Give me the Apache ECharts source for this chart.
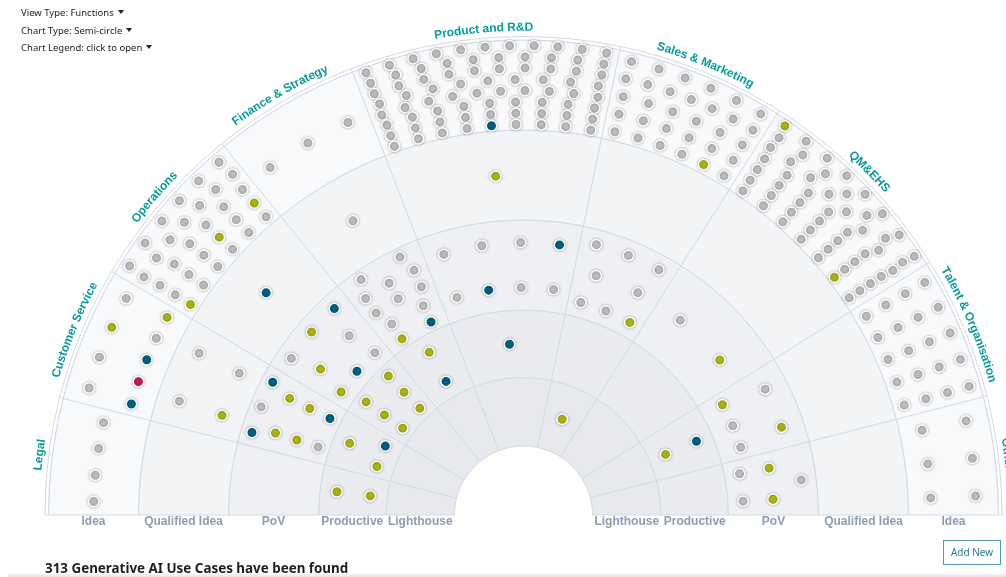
<!DOCTYPE html>
<html lang="en">
<head>
<meta charset="utf-8">
<title>Generative AI Use Cases</title>
<script src="https://cdn.jsdelivr.net/npm/echarts@6/dist/echarts.min.js"></script>
<style>
  html, body { margin: 0; padding: 0; background: #fff; }
  body { width: 1006px; height: 577px; position: relative; overflow: hidden; font-family: "Noto Sans", "Open Sans", sans-serif; }
  #chart { position: absolute; left: 0; top: 0; width: 1006px; height: 577px; }
  .menu { position: absolute; left: 21px; font-size: 9.5px; color: #222; line-height: 14px; white-space: nowrap; }
  .menu .caret { display: inline-block; margin-left: 4px; vertical-align: 2px; border-top: 4px solid #222; border-left: 3px solid transparent; border-right: 3px solid transparent; }
  .shade { position: absolute; left: 8px; right: 0; top: 574px; height: 3px; background: linear-gradient(#f4f4f4, #e4e4e4); }
  .found { position: absolute; left: 45px; top: 559px; font-size: 13.4px; line-height: 18px; font-weight: 700; color: #1e1e1e; white-space: nowrap; }
  .add-new { position: absolute; left: 943px; top: 540px; width: 56px; height: 23px; border: 1px solid #4f98a4; color: #2a7c8c; font-size: 10px; line-height: 23px; text-align: center; }
</style>
</head>
<body>
<div id="chart"></div>
<div class="menu" style="top:6px">View Type: Functions<span class="caret"></span></div>
<div class="menu" style="top:24px">Chart Type: Semi-circle<span class="caret"></span></div>
<div class="menu" style="top:41px">Chart Legend: click to open<span class="caret"></span></div>
<div class="shade"></div>
<div class="found">313 Generative AI Use Cases have been found</div>
<div class="add-new">Add New</div>
<script>
// stages from the centre outwards, with the radii of their ring edges
const stageNames = ["Lighthouse", "Productive", "PoV", "Qualified Idea", "Idea"];
const stageEdges = [69, 137.5, 205, 295, 385, 475];
const outerEdge = 478.5;

// functions, left to right, with the angles of their sector edges (0 = left, 180 = right)
const sectorNames = ["Legal", "Customer Service", "Operations", "Finance & Strategy",
  "Product and R&D", "Sales & Marketing", "QM&EHS", "Talent & Organisation", "Other"];
const sectorEdges = [0, 14.2, 30.6, 50.9, 68.9, 101.7, 122.3, 148.1, 165.6, 180];

// status of a use case: 0 grey, 1 green, 2 blue, 3 red
const statusNames = ["Open", "Active", "Running", "Flagged"];

// use cases per function: [radius, angle, status]
const legalCases = [
  [430, 1.8, 0], [430, 5.3, 0], [430, 8.9, 0], [430, 12.4, 0],
  [188, 7.1, 1], [154.4, 7.1, 1]
];
const customerCases = [
  [452.5, 16.3, 0], [452.5, 20.4, 0], [452.5, 24.5, 1], [452.5, 28.6, 0],
  [407.5, 15.8, 2], [407.5, 19.1, 3], [407.5, 22.4, 2], [407.5, 25.7, 0], [407.5, 29.0, 1],
  [362.5, 18.3, 0], [362.5, 26.5, 0], [317.5, 18.3, 1], [317.5, 26.5, 0],
  [283.8, 16.9, 2], [283.8, 22.4, 0], [283.8, 27.9, 2],
  [261.3, 18.3, 1], [261.3, 26.5, 1], [238.8, 18.3, 1], [238.8, 26.5, 1],
  [216.3, 18.3, 0], [216.3, 26.5, 2],
  [188, 22.4, 1], [154.4, 18.3, 1], [154.4, 26.5, 2]
];
const operationsCases = [
  [466, 32.3, 0], [466, 35.7, 0], [466, 39.1, 0], [466, 42.4, 0], [466, 45.8, 0], [466, 49.2, 0],
  [448, 32.1, 0], [448, 35.0, 0], [448, 37.9, 0], [448, 40.8, 0], [448, 43.7, 0], [448, 46.6, 0], [448, 49.5, 0],
  [430, 32.3, 0], [430, 35.7, 0], [430, 39.1, 0], [430, 42.4, 0], [430, 45.8, 0], [430, 49.2, 0],
  [412, 32.3, 0], [412, 35.7, 0], [412, 39.1, 0], [412, 42.4, 1], [412, 45.8, 0], [412, 49.2, 1],
  [394, 32.3, 1], [394, 35.7, 0], [394, 39.1, 0], [394, 42.4, 0], [394, 45.8, 0], [394, 49.2, 0],
  [340, 40.8, 2],
  [280, 34.0, 0], [280, 40.8, 1], [280, 47.5, 2], [250, 35.7, 1], [250, 45.8, 0],
  [220, 34.0, 1], [220, 40.8, 2], [220, 47.5, 0],
  [193.8, 35.7, 1], [193.8, 45.8, 1], [171.3, 35.7, 1], [171.3, 45.8, 1], [148.8, 35.7, 1], [148.8, 45.8, 1]
];
const financeCases = [
  [430, 53.9, 0], [430, 59.9, 0], [430, 65.9, 0],
  [340, 59.9, 0],
  [286, 55.4, 0], [286, 64.4, 0], [268, 53.9, 0], [268, 59.9, 0], [268, 65.9, 0],
  [250, 53.9, 0], [250, 59.9, 0], [250, 65.9, 0], [232, 55.4, 0], [232, 64.4, 0],
  [214, 55.4, 1], [214, 64.4, 2],
  [188, 59.9, 1], [154.4, 59.9, 2]
];
const productCases = [
  [469.4, 70.4, 0], [469.4, 73.4, 0], [469.4, 76.4, 0], [469.4, 79.3, 0], [469.4, 82.3, 0], [469.4, 85.3, 0],
  [469.4, 88.3, 0], [469.4, 91.3, 0], [469.4, 94.2, 0], [469.4, 97.2, 0], [469.4, 100.2, 0],
  [458.1, 70.5, 0], [458.1, 73.8, 0], [458.1, 77.1, 0], [458.1, 80.4, 0], [458.1, 83.7, 0],
  [458.1, 86.9, 0], [458.1, 90.2, 0], [458.1, 93.5, 0], [458.1, 96.8, 0], [458.1, 100.1, 0],
  [446.9, 70.5, 0], [446.9, 73.8, 0], [446.9, 77.1, 0], [446.9, 80.4, 0], [446.9, 83.7, 0],
  [446.9, 86.9, 0], [446.9, 90.2, 0], [446.9, 93.5, 0], [446.9, 96.8, 0], [446.9, 100.1, 0],
  [435.6, 70.7, 0], [435.6, 74.4, 0], [435.6, 78.0, 0], [435.6, 81.7, 0], [435.6, 85.3, 0],
  [435.6, 88.9, 0], [435.6, 92.6, 0], [435.6, 96.2, 0], [435.6, 99.9, 0],
  [424.4, 70.5, 0], [424.4, 73.8, 0], [424.4, 77.1, 0], [424.4, 80.4, 0], [424.4, 83.7, 0],
  [424.4, 86.9, 0], [424.4, 90.2, 0], [424.4, 93.5, 0], [424.4, 96.8, 0], [424.4, 100.1, 0],
  [413.1, 70.7, 0], [413.1, 74.4, 0], [413.1, 78.0, 0], [413.1, 81.7, 0], [413.1, 85.3, 0],
  [413.1, 88.9, 0], [413.1, 92.6, 0], [413.1, 96.2, 0], [413.1, 99.9, 0],
  [401.9, 70.7, 0], [401.9, 74.4, 0], [401.9, 78.0, 0], [401.9, 81.7, 0], [401.9, 85.3, 0],
  [401.9, 88.9, 0], [401.9, 92.6, 0], [401.9, 96.2, 0], [401.9, 99.9, 0],
  [390.6, 70.7, 0], [390.6, 74.4, 0], [390.6, 78.0, 0], [390.6, 81.7, 0], [390.6, 85.3, 2],
  [390.6, 88.9, 0], [390.6, 92.6, 0], [390.6, 96.2, 0], [390.6, 99.9, 0],
  [340, 85.3, 1],
  [272.5, 73.0, 0], [272.5, 81.2, 0], [272.5, 89.4, 0], [272.5, 97.6, 2],
  [227.5, 73.0, 0], [227.5, 81.2, 2], [227.5, 89.4, 0], [227.5, 97.6, 0],
  [171.3, 85.3, 2]
];
const salesCases = [
  [466, 103.4, 0], [466, 106.9, 0], [466, 110.3, 0], [466, 113.7, 0], [466, 117.2, 0], [466, 120.6, 0],
  [448, 103.2, 0], [448, 106.1, 0], [448, 109.1, 0], [448, 112.0, 0], [448, 114.9, 0], [448, 117.9, 0], [448, 120.8, 0],
  [430, 103.4, 0], [430, 106.9, 0], [430, 110.3, 0], [430, 113.7, 0], [430, 117.2, 0], [430, 120.6, 0],
  [412, 103.4, 0], [412, 106.9, 0], [412, 110.3, 0], [412, 113.7, 0], [412, 117.2, 0], [412, 120.6, 0],
  [394, 103.4, 0], [394, 106.9, 0], [394, 110.3, 0], [394, 113.7, 0], [394, 117.2, 1], [394, 120.6, 0],
  [280, 105.1, 0], [280, 112.0, 0], [280, 118.9, 0], [250, 106.9, 0], [250, 117.2, 0],
  [220, 105.1, 0], [220, 112.0, 0], [220, 118.9, 1],
  [103.3, 112.0, 1]
];
const qmCases = [
  [468.6, 123.9, 1], [468.6, 127.1, 0], [468.6, 130.4, 0], [468.6, 133.6, 0], [468.6, 136.8, 0], [468.6, 140.0, 0], [468.6, 143.3, 0], [468.6, 146.5, 0],
  [455.7, 124.1, 0], [455.7, 127.8, 0], [455.7, 131.5, 0], [455.7, 135.2, 0], [455.7, 138.9, 0], [455.7, 142.6, 0], [455.7, 146.3, 0],
  [442.9, 123.9, 0], [442.9, 127.1, 0], [442.9, 130.4, 0], [442.9, 133.6, 0], [442.9, 136.8, 0], [442.9, 140.0, 0], [442.9, 143.3, 0], [442.9, 146.5, 0],
  [430, 124.1, 0], [430, 127.8, 0], [430, 131.5, 0], [430, 135.2, 0], [430, 138.9, 0], [430, 142.6, 0], [430, 146.3, 0],
  [417.1, 124.1, 0], [417.1, 127.8, 0], [417.1, 131.5, 0], [417.1, 135.2, 0], [417.1, 138.9, 0], [417.1, 142.6, 0], [417.1, 146.3, 0],
  [404.3, 124.1, 0], [404.3, 127.8, 0], [404.3, 131.5, 0], [404.3, 135.2, 0], [404.3, 138.9, 0], [404.3, 142.6, 0], [404.3, 146.3, 0],
  [391.4, 124.1, 0], [391.4, 127.8, 0], [391.4, 131.5, 0], [391.4, 135.2, 0], [391.4, 138.9, 0], [391.4, 142.6, 1], [391.4, 146.3, 0],
  [250, 128.8, 0], [250, 141.7, 1]
];
const talentCases = [
  [463.8, 149.9, 0], [463.8, 153.4, 0], [463.8, 156.9, 0], [463.8, 160.4, 0], [463.8, 163.9, 0],
  [441.3, 149.9, 0], [441.3, 153.4, 0], [441.3, 156.9, 0], [441.3, 160.4, 0], [441.3, 163.9, 0],
  [418.8, 149.9, 0], [418.8, 153.4, 0], [418.8, 156.9, 0], [418.8, 160.4, 0], [418.8, 163.9, 0],
  [396.3, 149.9, 0], [396.3, 153.4, 0], [396.3, 156.9, 0], [396.3, 160.4, 0], [396.3, 163.9, 0],
  [272.5, 152.5, 0], [272.5, 161.2, 1],
  [227.5, 151.0, 1], [227.5, 156.9, 0], [227.5, 162.7, 0],
  [188, 156.9, 2], [154.4, 156.9, 1]
];
const otherCases = [
  [452.5, 168.0, 0], [452.5, 172.8, 0], [452.5, 177.6, 0],
  [407.5, 168.0, 0], [407.5, 172.8, 0], [407.5, 177.6, 0],
  [280, 172.8, 0], [250, 169.2, 1], [250, 176.4, 1], [220, 169.2, 0], [220, 176.4, 0]
];

const allCases = [].concat(legalCases, customerCases, operationsCases, financeCases,
  productCases, salesCases, qmCases, talentCases, otherCases);

const statusColors = ["#bcbcbc", "#aab414", "#00617f", "#c21d5c"];
const ringFills = ["#e7e9ed", "#ebecf0", "#eff0f3", "#f3f4f6", "#f8f9fa", "#ffffff"];
const lineColor = "#d3d9e3";
const labelColor = "#089a9a";
const labelFont = 'bold 12px "Liberation Sans", Arial, sans-serif';
const stageFont = 'bold 12px "Liberation Sans", Arial, sans-serif';
const labelRadius = 487.5;

const measureCtx = document.createElement("canvas").getContext("2d");
measureCtx.font = labelFont;

const chart = echarts.init(document.getElementById("chart"));

function radiusPx(api, r) {
  const c = api.coord([0, 0]);
  return c[1] - api.coord([r, 90])[1];
}

function renderRing(params, api) {
  const c = api.coord([0, 0]);
  return {
    type: "sector",
    shape: {
      cx: c[0], cy: c[1],
      r0: radiusPx(api, api.value(0)), r: radiusPx(api, api.value(1)),
      startAngle: -Math.PI, endAngle: 0, clockwise: true
    },
    style: { fill: ringFills[params.dataIndex], stroke: lineColor, lineWidth: 1 }
  };
}

function renderDivider(params, api) {
  const a = api.value(1);
  const p0 = api.coord([stageEdges[0], a]);
  const p1 = api.coord([outerEdge, a]);
  return {
    type: "line",
    shape: { x1: p0[0], y1: p0[1], x2: p1[0], y2: p1[1] },
    style: { stroke: lineColor, lineWidth: 1 }
  };
}

// function names follow the outer arc, one glyph at a time
function renderSectorLabel(params, api) {
  const i = params.dataIndex;
  const chars = Array.from(sectorNames[i]);
  const mid = (sectorEdges[i] + sectorEdges[i + 1]) / 2;
  const R = radiusPx(api, labelRadius);
  const widths = chars.map((ch) => measureCtx.measureText(ch).width);
  const total = widths.reduce((s, w) => s + w, 0);
  const degPerPx = 180 / (Math.PI * R);
  let acc = 0;
  const children = chars.map((ch, k) => {
    const a = mid + (acc + widths[k] / 2 - total / 2) * degPerPx;
    acc += widths[k];
    const p = api.coord([labelRadius, a]);
    return {
      type: "text",
      x: p[0], y: p[1],
      rotation: ((90 - a) * Math.PI) / 180,
      style: { text: ch, fill: labelColor, font: labelFont, align: "center", verticalAlign: "middle" }
    };
  });
  return { type: "group", children: children };
}

function renderStageLabel(params, api) {
  const i = params.dataIndex;
  const mid = (stageEdges[i] + stageEdges[i + 1]) / 2;
  const pts = [api.coord([mid, 0]), api.coord([mid, 180])];
  return {
    type: "group",
    children: pts.map((p) => ({
      type: "text",
      x: p[0], y: p[1] + 7,
      style: { text: stageNames[i], fill: "#8d9cb0", font: stageFont, align: "center", verticalAlign: "middle" }
    }))
  };
}

const ringEdges = stageEdges.concat([outerEdge]);
const ringData = ringEdges.slice(0, -1).map((r, i) => [r, ringEdges[i + 1]]);

const dotSeries = statusNames.map((name, s) => ({
  type: "scatter",
  name: name,
  coordinateSystem: "polar",
  symbol: "circle",
  symbolSize: 10.5,
  z: 5,
  silent: true,
  data: allCases.filter((c) => c[2] === s).map((c) => [c[0], c[1]]),
  itemStyle: {
    color: statusColors[s],
    borderColor: "#ffffff",
    borderWidth: 1.5,
    shadowBlur: 3,
    shadowColor: "rgba(0,0,0,0.3)",
    opacity: 1
  }
}));

chart.setOption({
  animation: false,
  polar: { center: [523.5, 515], radius: outerEdge },
  angleAxis: {
    type: "value", min: 0, max: 360, startAngle: 180, clockwise: true,
    show: false, axisLine: { show: false }, splitLine: { show: false }, axisLabel: { show: false }, axisTick: { show: false }
  },
  radiusAxis: {
    type: "value", min: 0, max: outerEdge,
    show: false, axisLine: { show: false }, splitLine: { show: false }, axisLabel: { show: false }, axisTick: { show: false }
  },
  series: [
    { type: "custom", coordinateSystem: "polar", z: 1, silent: true, renderItem: renderRing, data: ringData },
    { type: "custom", coordinateSystem: "polar", z: 2, silent: true, renderItem: renderDivider,
      data: sectorEdges.slice(1, -1).map((a) => [0, a]) },
    { type: "custom", coordinateSystem: "polar", z: 3, silent: true, renderItem: renderSectorLabel,
      data: sectorNames.map((n, i) => [labelRadius, i]) },
    { type: "custom", coordinateSystem: "polar", z: 3, silent: true, renderItem: renderStageLabel,
      data: stageNames.map((n, i) => [0, i]) }
  ].concat(dotSeries)
});
</script>
</body>
</html>
